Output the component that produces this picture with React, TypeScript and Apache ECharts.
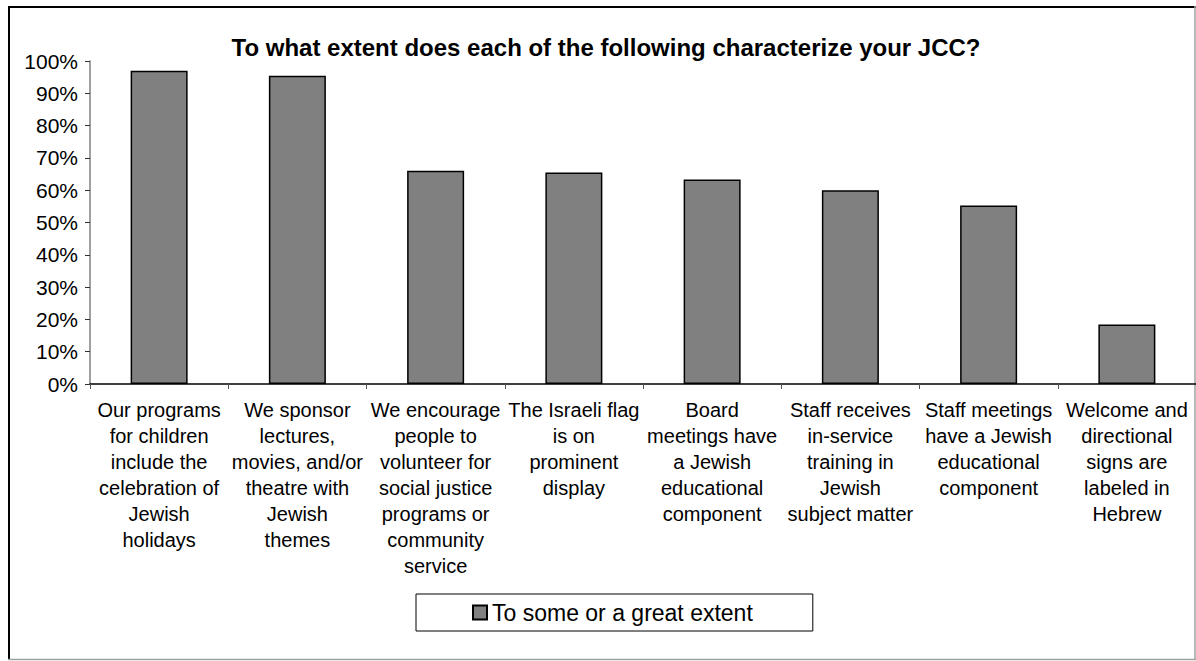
import React, { useEffect, useRef } from "react";
import * as echarts from "echarts";

const titleText = "To what extent does each of the following characterize your JCC?";
const seriesName = "To some or a great extent";
const categories = [
  "Our programs\nfor children\ninclude the\ncelebration of\nJewish\nholidays",
  "We sponsor\nlectures,\nmovies, and/or\ntheatre with\nJewish\nthemes",
  "We encourage\npeople to\nvolunteer for\nsocial justice\nprograms or\ncommunity\nservice",
  "The Israeli flag\nis on\nprominent\ndisplay",
  "Board\nmeetings have\na Jewish\neducational\ncomponent",
  "Staff receives\nin-service\ntraining in\nJewish\nsubject matter",
  "Staff meetings\nhave a Jewish\neducational\ncomponent",
  "Welcome and\ndirectional\nsigns are\nlabeled in\nHebrew",
];
const values = [97, 95.4, 66, 65.5, 63.3, 60, 55.3, 18.4];

const FONT = "'Liberation Sans', Arial, sans-serif";

export default function App() {
  const ref = useRef<HTMLDivElement>(null);
  useEffect(() => {
    if (!ref.current) return;
    const chart = echarts.init(ref.current, undefined, { renderer: "svg" });
    chart.setOption({
      animation: false,
      backgroundColor: "#ffffff",
      textStyle: { fontFamily: FONT },
      title: {
        text: titleText,
        left: 601,
        top: 30,
        textAlign: "center",
        textStyle: { fontFamily: FONT, fontSize: 24, fontWeight: "bold", color: "#000" },
      },
      legend: {
        data: [seriesName],
        left: 416,
        top: 594,
        padding: [7, 60, 7, 56],
        borderColor: "#000",
        borderWidth: 1,
        itemWidth: 14,
        itemHeight: 14,
        icon: "rect",
        textStyle: { fontFamily: FONT, fontSize: 23, color: "#000" },
      },
      grid: { left: 90, top: 61, width: 1109, height: 323, containLabel: false },
      xAxis: {
        type: "category",
        data: categories,
        axisLine: { lineStyle: { color: "#000", width: 1.5 } },
        axisTick: { show: true, length: 5, lineStyle: { color: "#555" } },
        axisLabel: {
          interval: 0,
          margin: 13,
          fontFamily: FONT,
          fontSize: 20,
          lineHeight: 26,
          color: "#000",
          align: "center",
        },
      },
      yAxis: {
        type: "value",
        min: 0,
        max: 100,
        interval: 10,
        splitLine: { show: false },
        axisLine: { show: true, lineStyle: { color: "#808080", width: 1.5 } },
        axisTick: { show: true, length: 5, lineStyle: { color: "#333" } },
        axisLabel: {
          formatter: "{value}%",
          margin: 12,
          fontFamily: FONT,
          fontSize: 21,
          color: "#000",
        },
      },
      series: [
        {
          name: seriesName,
          type: "bar",
          data: values,
          barWidth: 57,
          itemStyle: { color: "#808080", borderColor: "#000", borderWidth: 1.5 },
        },
      ],
      graphic: [
        { type: "line", shape: { x1: 8, y1: 7, x2: 1196, y2: 7 }, style: { stroke: "#000", lineWidth: 2 } },
        { type: "line", shape: { x1: 9, y1: 6, x2: 9, y2: 660 }, style: { stroke: "#000", lineWidth: 2 } },
        { type: "line", shape: { x1: 1195, y1: 6, x2: 1195, y2: 660 }, style: { stroke: "#a0a0a0", lineWidth: 1.5 } },
        { type: "line", shape: { x1: 8, y1: 659.5, x2: 1196, y2: 659.5 }, style: { stroke: "#a0a0a0", lineWidth: 1.5 } },
      ],
    });
    return () => chart.dispose();
  }, []);
  return (
    <div
      ref={ref}
      style={{ position: "absolute", left: 0, top: 0, width: 1196, height: 661 }}
    />
  );
}
